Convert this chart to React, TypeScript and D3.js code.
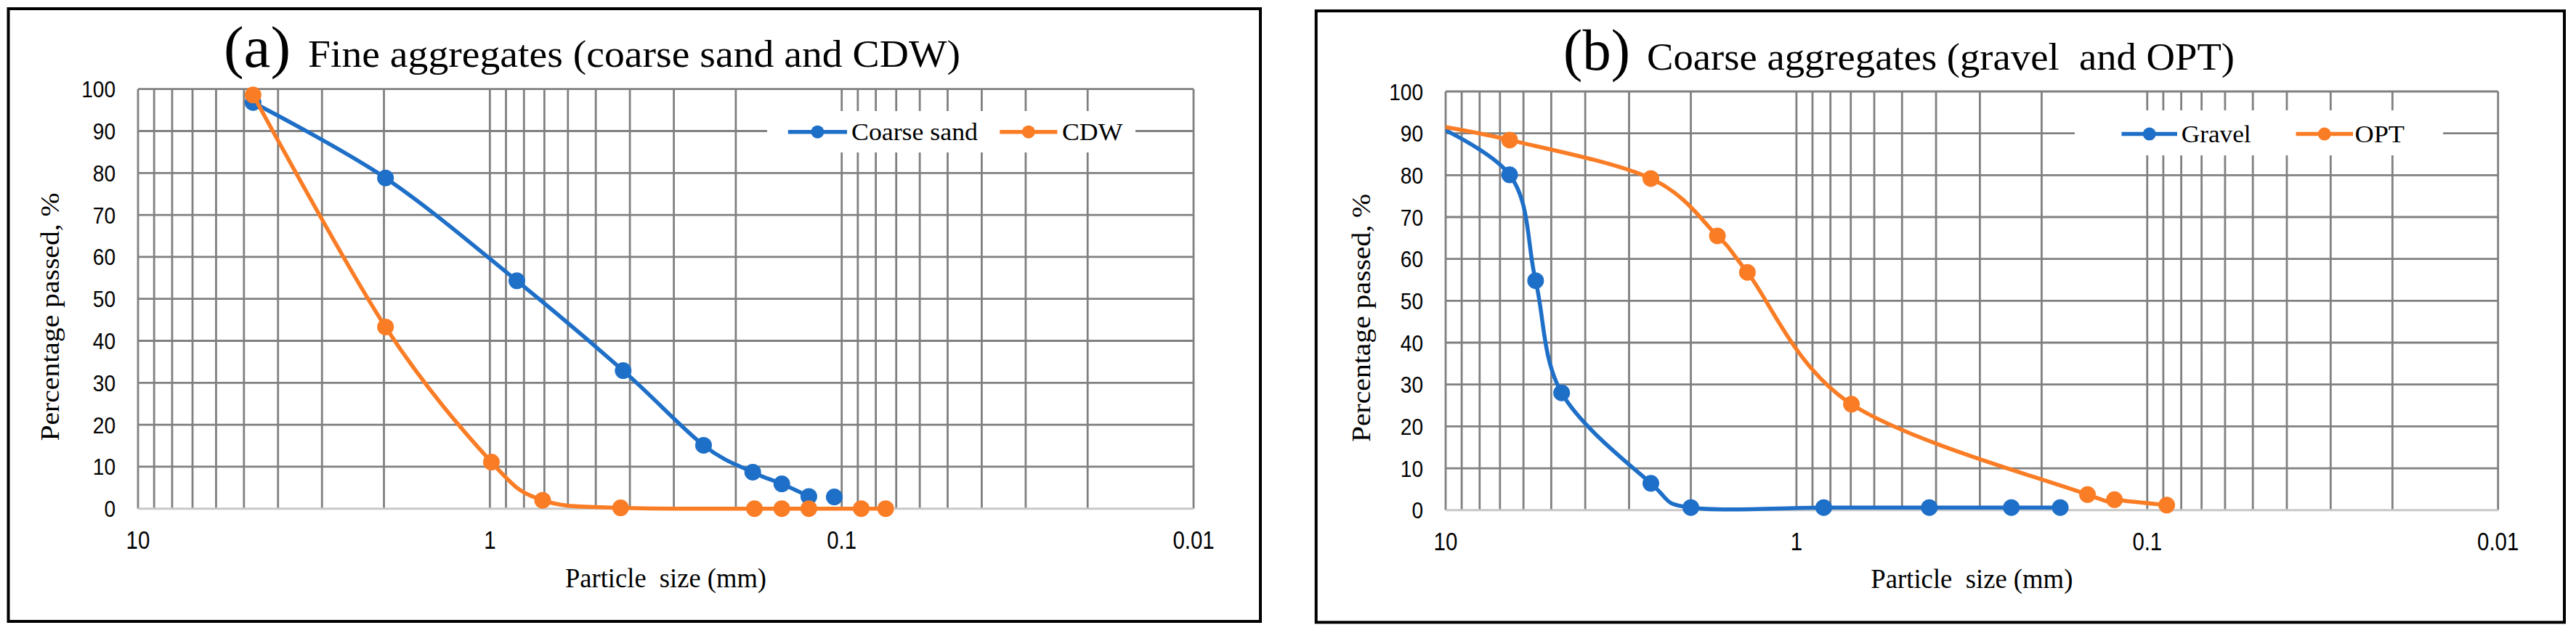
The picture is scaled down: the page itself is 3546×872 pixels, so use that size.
import React from "react";
import * as d3 from "d3";

const W = 3546;
const H = 872;

// ---------- data ----------
const yTicks = [0, 10, 20, 30, 40, 50, 60, 70, 80, 90, 100];
const xTickValues = [10, 1, 0.1, 0.01];
const xTickLabels = ["10", "1", "0.1", "0.01"];

// Panel (a) fine aggregates
const coarseSandSize = [4.71, 1.98, 0.838, 0.418, 0.247, 0.179, 0.148, 0.124, 0.105];
const coarseSandPass = [96.8, 78.8, 54.3, 32.9, 15.1, 8.7, 5.9, 2.9, 2.8];
const coarseSandLineEnd = 8; // last point is not joined to the line
const cdwSize = [4.71, 1.98, 0.99, 0.708, 0.425, 0.177, 0.148, 0.124, 0.088, 0.075];
const cdwPass = [98.6, 43.3, 11.1, 2.0, 0.2, 0, 0, 0, 0, 0];

// Panel (b) coarse aggregates (first point lies beyond the 10 mm axis limit)
const gravelSize = [12.5, 6.57, 5.54, 4.67, 2.6, 2.0, 0.836, 0.418, 0.244, 0.177];
const gravelPass = [94.6, 80.1, 54.8, 28.0, 6.4, 0.6, 0.6, 0.6, 0.6, 0.6];
const optSize = [12.5, 6.57, 2.6, 1.68, 1.38, 0.697, 0.148, 0.124, 0.088];
const optPass = [92.8, 88.4, 79.2, 65.5, 56.8, 25.3, 3.7, 2.5, 1.2];

const BLUE = "#1E6FC8";
const ORANGE = "#FA7D26";
const GRID = "#808080";

type Series = { name: string; color: string; size: number[]; pass: number[]; lineEnd?: number };

const panels = [
  {
    id: "a",
    frame: { x1: 11.5, y1: 12, x2: 1735, y2: 856 },
    plot: { x1: 190, y1: 122.7, x2: 1643, y2: 700.7 },
    tag: "(a)",
    tagX: 308,
    titleX: 424,
    titleW: 898,
    baseline: 92,
    title: "Fine aggregates (coarse sand and CDW)",
    xTitleY: 809,
    xTitleW: 277,
    yTitleX: 81,
    yTitleCY: 436.5,
    series: [
      { name: "Coarse sand", color: BLUE, size: coarseSandSize, pass: coarseSandPass, lineEnd: coarseSandLineEnd },
      { name: "CDW", color: ORANGE, size: cdwSize, pass: cdwPass },
    ] as Series[],
    legend: {
      box: { x1: 1056, y1: 153, x2: 1563, y2: 210 },
      y: 181.7,
      items: [
        { l1: 1084.8, l2: 1166, tx: 1172, tw: 174 },
        { l1: 1376.3, l2: 1455.4, tx: 1462, tw: 83.5 },
      ],
    },
  },
  {
    id: "b",
    frame: { x1: 1811.7, y1: 15, x2: 3530, y2: 857.3 },
    plot: { x1: 1990, y1: 126, x2: 3438.7, y2: 702.7 },
    tag: "(b)",
    tagX: 2152,
    titleX: 2267,
    titleW: 809,
    baseline: 96,
    title: "Coarse aggregates (gravel  and OPT)",
    xTitleY: 810,
    xTitleW: 278,
    yTitleX: 1886,
    yTitleCY: 438,
    series: [
      { name: "Gravel", color: BLUE, size: gravelSize, pass: gravelPass },
      { name: "OPT", color: ORANGE, size: optSize, pass: optPass },
    ] as Series[],
    legend: {
      box: { x1: 2856, y1: 152, x2: 3363, y2: 214 },
      y: 184.6,
      items: [
        { l1: 2920.5, l2: 2997, tx: 3002.7, tw: 96 },
        { l1: 3160.5, l2: 3239, tx: 3241.5, tw: 68.5 },
      ],
    },
  },
];

const minorGrid: number[] = (() => {
  const v: number[] = [10];
  [1, 0.1, 0.01].forEach((d) => {
    for (let k = 9; k >= 1; k--) v.push(+(k * d).toPrecision(3));
  });
  return v;
})();

function Panel({ p }: { p: (typeof panels)[number] }) {
  const x = d3.scaleLog().domain([10, 0.01]).range([p.plot.x1, p.plot.x2]);
  const y = d3.scaleLinear().domain([0, 100]).range([p.plot.y2, p.plot.y1]);
  const line = d3
    .line<[number, number]>()
    .x((d) => x(d[0]))
    .y((d) => y(d[1]))
    .curve(d3.curveCardinal.tension(0));
  const clipId = `clip-${p.id}`;
  const sans = "'Liberation Sans', Arial, sans-serif";
  const serif = "'Liberation Serif', 'Times New Roman', serif";
  const fr = p.frame;
  const lg = p.legend;
  return (
    <g>
      <defs>
        <clipPath id={clipId}>
          <rect x={p.plot.x1} y={0} width={p.plot.x2 - p.plot.x1} height={H} />
        </clipPath>
      </defs>
      <rect x={fr.x1} y={fr.y1} width={fr.x2 - fr.x1} height={fr.y2 - fr.y1} fill="#fff" stroke="#000" strokeWidth={4} />
      {/* title */}
      <text x={p.tagX} y={p.baseline} fontFamily={serif} fontSize={80} textLength={92} lengthAdjust="spacingAndGlyphs">
        {p.tag}
      </text>
      <text
        x={p.titleX}
        y={p.baseline}
        fontFamily={serif}
        fontSize={53}
        textLength={p.titleW}
        lengthAdjust="spacingAndGlyphs"
        style={{ whiteSpace: "pre" }}
      >
        {p.title}
      </text>
      {/* vertical gridlines */}
      {minorGrid.map((v, i) => (
        <line key={`v${i}`} x1={x(v)} x2={x(v)} y1={y(100)} y2={y(0)} stroke={GRID} strokeWidth={2.8} />
      ))}
      {/* horizontal gridlines */}
      {yTicks.map((t) => (
        <line
          key={`h${t}`}
          x1={p.plot.x1}
          x2={p.plot.x2}
          y1={y(t)}
          y2={y(t)}
          stroke={t === 0 ? "#C8C8C8" : GRID}
          strokeWidth={t === 0 ? 3 : 2.8}
        />
      ))}
      {/* legend background */}
      <rect x={lg.box.x1} y={lg.box.y1} width={lg.box.x2 - lg.box.x1} height={lg.box.y2 - lg.box.y1} fill="#fff" />
      {/* y tick labels */}
      {yTicks.map((t) => (
        <text
          key={`yl${t}`}
          x={p.plot.x1 - 31}
          y={y(t) + 11.5}
          textAnchor="end"
          fontFamily={sans}
          fontSize={31.5}
          textLength={String(t).length * 15.6}
          lengthAdjust="spacingAndGlyphs"
        >
          {t}
        </text>
      ))}
      {/* x tick labels */}
      {xTickValues.map((v, i) => {
        const s = xTickLabels[i];
        const w = s.replace(".", "").length * 16.4 + (s.includes(".") ? 8 : 0);
        return (
          <text
            key={`xl${i}`}
            x={x(v)}
            y={y(0) + 55.5}
            textAnchor="middle"
            fontFamily={sans}
            fontSize={35.5}
            textLength={w}
            lengthAdjust="spacingAndGlyphs"
          >
            {s}
          </text>
        );
      })}
      {/* axis titles */}
      <text
        x={(p.plot.x1 + p.plot.x2) / 2}
        y={p.xTitleY}
        textAnchor="middle"
        fontFamily={serif}
        fontSize={37}
        textLength={p.xTitleW}
        lengthAdjust="spacingAndGlyphs"
        style={{ whiteSpace: "pre" }}
      >
        {"Particle  size (mm)"}
      </text>
      <text
        transform={`translate(${p.yTitleX},${p.yTitleCY}) rotate(-90)`}
        textAnchor="middle"
        fontFamily={serif}
        fontSize={36}
        textLength={342}
        lengthAdjust="spacingAndGlyphs"
      >
        Percentage passed, %
      </text>
      {/* series */}
      {p.series.map((s) => {
        const pts: [number, number][] = s.size.map((v, i) => [v, s.pass[i]]);
        const linePts = s.lineEnd ? pts.slice(0, s.lineEnd) : pts;
        return (
          <g key={s.name}>
            <path d={line(linePts) || ""} fill="none" stroke={s.color} strokeWidth={5.5} clipPath={`url(#${clipId})`} />
            {pts
              .filter((d) => d[0] <= 10)
              .map((d, i) => (
                <circle key={i} cx={x(d[0])} cy={y(d[1])} r={11.5} fill={s.color} />
              ))}
          </g>
        );
      })}
      {/* legend */}
      {p.series.map((s, i) => {
        const it = lg.items[i];
        return (
          <g key={`lg${i}`}>
            <line x1={it.l1} x2={it.l2} y1={lg.y} y2={lg.y} stroke={s.color} strokeWidth={5.5} />
            <circle cx={(it.l1 + it.l2) / 2} cy={lg.y} r={9} fill={s.color} />
            <text
              x={it.tx}
              y={lg.y + 11.5}
              fontFamily={serif}
              fontSize={33}
              textLength={it.tw}
              lengthAdjust="spacingAndGlyphs"
            >
              {s.name}
            </text>
          </g>
        );
      })}
    </g>
  );
}

export default function App() {
  return (
    <svg
      width={W}
      height={H}
      viewBox={`0 0 ${W} ${H}`}
      style={{ position: "absolute", left: 0, top: 0, display: "block", background: "#fff" }}
    >
      <rect x={0} y={0} width={W} height={H} fill="#fff" />
      {panels.map((p) => (
        <Panel key={p.id} p={p} />
      ))}
    </svg>
  );
}
